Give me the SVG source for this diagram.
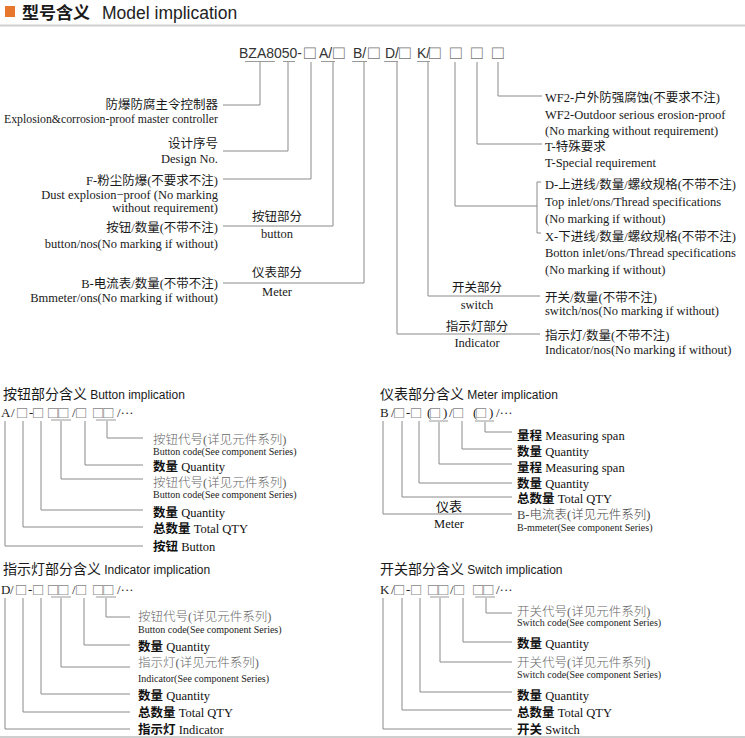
<svg xmlns="http://www.w3.org/2000/svg" width="745" height="738" viewBox="0 0 745 738">
<style>
.bg{fill:#fff}
.t{font-family:"Liberation Serif","Noto Sans CJK SC",serif;font-size:12.5px;fill:#1a1a1a}
.e{text-anchor:end}
.m{text-anchor:middle}
.code{font-family:"Liberation Sans","DejaVu Sans",sans-serif;font-size:14px;fill:#333}
.bx{font-family:"Liberation Sans","DejaVu Sans",sans-serif;font-size:19px;fill:#777}
.lc{font-family:"Liberation Serif","Noto Sans CJK SC",serif;font-size:13px;fill:#222}
.lb{font-family:"Liberation Sans","DejaVu Sans",sans-serif;font-size:17px;fill:#888}
.ttl{font-family:"Noto Sans CJK SC",sans-serif;font-size:14px;fill:#1a1a1a}
.ttl tspan.l{font-family:"Liberation Sans",sans-serif;font-size:12px}
.s13{font-family:"Liberation Serif","Noto Sans CJK SC",serif;font-size:12.5px;fill:#111}
.s13 tspan.b{font-family:"Noto Sans CJK SC",sans-serif;font-weight:bold}
.g13{font-family:"Liberation Serif","Noto Sans CJK SC",serif;font-size:12.5px;fill:#666}
.g13 tspan.c{font-family:"Noto Sans CJK SC",sans-serif;font-weight:300}
.s10{font-family:"Liberation Serif",serif;font-size:10px;fill:#222}
.cj{font-family:"Noto Sans CJK SC",sans-serif;font-size:13px;fill:#111}
.ln{stroke:#8a8a8a;stroke-width:1;fill:none}
.ul{stroke:#999;stroke-width:1;fill:none}
</style>
<rect class="bg" x="0" y="0" width="745" height="738"/>

<g id="header">
<rect x="5" y="6" width="10" height="11" fill="#E8772E"/>
<text x="22" y="19" font-family="Noto Sans CJK SC,sans-serif" font-size="17" font-weight="bold" fill="#1a1a1a">型号含义</text>
<text x="102" y="19" font-family="Liberation Sans,sans-serif" font-size="17.5" fill="#222">Model implication</text>
<line x1="0" y1="25.5" x2="745" y2="25.5" stroke="#cfcfcf" stroke-width="2"/>
</g>

<g id="model-code">
<text class="code" x="239" y="58">BZA8050-</text>
<text class="bx" x="304" y="59">□</text>
<text class="code" x="319" y="58">A/</text>
<text class="bx" x="333" y="59">□</text>
<text class="code" x="353" y="58">B/</text>
<text class="bx" x="368" y="59">□</text>
<text class="code" x="385" y="58">D/</text>
<text class="bx" x="399" y="59">□</text>
<text class="code" x="417" y="58">K/</text>
<text class="bx" x="429" y="59">□</text>
<text class="bx" x="450" y="59">□</text>
<text class="bx" x="471" y="59">□</text>
<text class="bx" x="492" y="59">□</text>
</g>

<g id="connectors">
<path class="ul" d="M245 61.5H275M283 61.5H295M321 61.5H335M352 61.5H367M384 61.5H398M417 61.5H430"/>
<path class="ln" d="M260 62V105H223"/>
<path class="ln" d="M288 62V151H223"/>
<path class="ln" d="M311 62V179H223"/>
<path class="ln" d="M333 62V226H223"/>
<path class="ln" d="M364 62V283H223"/>
<path class="ln" d="M397 62V334H540"/>
<path class="ln" d="M428 62V296H540"/>
<path class="ln" d="M455 62V206H537"/>
<path class="ln" d="M541 182H537V233H541"/>
<path class="ln" d="M477 62V144H542"/>
<path class="ln" d="M498 62V96H542"/>

<path class="ul" d="M51 420H71M96 420H116"/>
<path class="ln" d="M5 421V546H143M23 421V527H143M41 421V510H143M61 421V479H143M85 421V465H143M107 421V438H143"/>

<path class="ul" d="M429 421H448M475 421H494"/>
<path class="ln" d="M383 421V514H512M402 421V497H512M419 421V483H512M439 422V464H512M462 421V449H512M485 422V432H512"/>

<path class="ul" d="M51 597H71M96 597H116"/>
<path class="ln" d="M5 598V729H130M23 598V712H130M41 598V694H130M61 598V667H130M84 598V645H130M106 598V617H130"/>

<path class="ul" d="M430 597H449M475 597H495"/>
<path class="ln" d="M383 598V729H512M402 598V710H512M420 598V692H512M440 598V662H512M463 598V642H512M486 598V613H512"/>
</g>

<g id="n-controller"><text class="t e" x="218" y="109">防爆防腐主令控制器</text><text class="t e" x="218" y="122.5" textLength="214" lengthAdjust="spacingAndGlyphs">Explosion&amp;corrosion-proof master controller</text></g>
<g id="n-design"><text class="t e" x="218" y="147.5">设计序号</text><text class="t e" x="218" y="163">Design No.</text></g>
<g id="n-dust"><text class="t e" x="218" y="184.5">F-粉尘防爆(不要求不注)</text><text class="t e" x="218" y="198.5">Dust explosion−proof (No marking</text><text class="t e" x="218" y="212">without requirement)</text></g>
<g id="n-button"><text class="t e" x="218" y="231.5">按钮/数量(不带不注)</text><text class="t e" x="218" y="247.5">button/nos(No marking if without)</text><text class="t m" x="277" y="221">按钮部分</text><text class="t m" x="277" y="238">button</text></g>
<g id="n-meter"><text class="t e" x="218" y="287.5">B-电流表/数量(不带不注)</text><text class="t e" x="218" y="301.5">Bmmeter/ons(No marking if without)</text><text class="t m" x="277" y="277">仪表部分</text><text class="t m" x="277" y="296">Meter</text></g>
<g id="n-wf2"><text class="t" x="545" y="101.5">WF2-户外防强腐蚀(不要求不注)</text><text class="t" x="545" y="118.5">WF2-Outdoor serious erosion-proof</text><text class="t" x="545" y="134.5">(No marking without requirement)</text></g>
<g id="n-special"><text class="t" x="545" y="150.5">T-特殊要求</text><text class="t" x="545" y="167">T-Special requirement</text></g>
<g id="n-inlet"><text class="t" x="545" y="188.5">D-上进线/数量/螺纹规格(不带不注)</text><text class="t" x="545" y="206">Top inlet/ons/Thread specifications</text><text class="t" x="545" y="223">(No marking if without)</text><text class="t" x="545" y="240.5">X-下进线/数量/螺纹规格(不带不注)</text><text class="t" x="545" y="257">Botton inlet/ons/Thread specifications</text><text class="t" x="545" y="274">(No marking if without)</text></g>
<g id="n-switch"><text class="t" x="545" y="301.5">开关/数量(不带不注)</text><text class="t" x="545" y="314.5">switch/nos(No marking if without)</text><text class="t m" x="477" y="291.5">开关部分</text><text class="t m" x="477" y="309">switch</text></g>
<g id="n-indicator"><text class="t" x="545" y="339.5">指示灯/数量(不带不注)</text><text class="t" x="545" y="354">Indicator/nos(No marking if without)</text><text class="t m" x="477" y="330.5">指示灯部分</text><text class="t m" x="477" y="347">Indicator</text></g>

<g id="button-section">
<text class="ttl" x="3" y="399">按钮部分含义 <tspan class="l">Button implication</tspan></text>
<text class="lc" x="1" y="417">A</text><text class="lc" x="11" y="417">/</text><text class="lb" x="17" y="418">□</text><text class="lc" x="29" y="417">-</text><text class="lb" x="33" y="418">□</text><text class="lb" x="48" y="418">□□</text><text class="lc" x="72" y="417">/</text><text class="lb" x="76" y="418">□</text><text class="lb" x="93" y="418">□□</text><text class="lc" x="117" y="417">/···</text>
<text class="g13" x="153" y="444"><tspan class="c">按钮代号</tspan>(<tspan class="c">详见元件系列</tspan>)</text><text class="s10" x="153" y="455">Button code(See component Series)</text>
<text class="s13" x="153" y="470.5"><tspan class="b">数量</tspan> Quantity</text>
<text class="g13" x="153" y="487"><tspan class="c">按钮代号</tspan>(<tspan class="c">详见元件系列</tspan>)</text><text class="s10" x="153" y="498">Button code(See component Series)</text>
<text class="s13" x="153" y="516.5"><tspan class="b">数量</tspan> Quantity</text>
<text class="s13" x="153" y="532.5"><tspan class="b">总数量</tspan> Total QTY</text>
<text class="s13" x="153" y="550.5"><tspan class="b">按钮</tspan> Button</text>
</g>

<g id="meter-section">
<text class="ttl" x="380" y="399">仪表部分含义 <tspan class="l">Meter implication</tspan></text>
<text class="lc" x="380" y="417">B</text><text class="lc" x="391" y="417">/</text><text class="lb" x="394" y="418">□</text><text class="lc" x="406" y="417">-</text><text class="lb" x="411" y="418">□</text><text class="lc" x="427" y="417">(</text><text class="lb" x="430" y="418">□</text><text class="lc" x="443" y="417">)</text><text class="lc" x="449" y="417">/</text><text class="lb" x="453" y="418">□</text><text class="lc" x="473" y="417">(</text><text class="lb" x="476" y="418">□</text><text class="lc" x="489" y="417">)</text><text class="lc" x="496" y="417">/···</text>
<text class="s13" x="517" y="439.5"><tspan class="b">量程</tspan> Measuring span</text>
<text class="s13" x="517" y="455.5"><tspan class="b">数量</tspan> Quantity</text>
<text class="s13" x="517" y="471.5"><tspan class="b">量程</tspan> Measuring span</text>
<text class="s13" x="517" y="487.5"><tspan class="b">数量</tspan> Quantity</text>
<text class="s13" x="517" y="502.5"><tspan class="b">总数量</tspan> Total QTY</text>
<text class="g13" x="517" y="519" style="fill:#444">B-<tspan class="c">电流表</tspan>(<tspan class="c">详见元件系列</tspan>)</text><text class="s10" x="517" y="531">B-mmeter(See component Series)</text>
<text class="cj" x="449" y="511" text-anchor="middle">仪表</text>
<text class="s13" x="449" y="527.5" text-anchor="middle">Meter</text>
</g>

<g id="indicator-section">
<text class="ttl" x="3" y="574">指示灯部分含义 <tspan class="l">Indicator implication</tspan></text>
<text class="lc" x="1" y="594">D</text><text class="lc" x="10" y="594">/</text><text class="lb" x="16" y="595">□</text><text class="lc" x="28" y="594">-</text><text class="lb" x="33" y="595">□</text><text class="lb" x="48" y="595">□□</text><text class="lc" x="72" y="594">/</text><text class="lb" x="76" y="595">□</text><text class="lb" x="93" y="595">□□</text><text class="lc" x="117" y="594">/···</text>
<text class="g13" x="138" y="621"><tspan class="c">按钮代号</tspan>(<tspan class="c">详见元件系列</tspan>)</text><text class="s10" x="138" y="633">Button code(See component Series)</text>
<text class="s13" x="138" y="650.5"><tspan class="b">数量</tspan> Quantity</text>
<text class="g13" x="138" y="667"><tspan class="c">指示灯</tspan>(<tspan class="c">详见元件系列</tspan>)</text><text class="s10" x="138" y="682">Indicator(See component Series)</text>
<text class="s13" x="138" y="699.5"><tspan class="b">数量</tspan> Quantity</text>
<text class="s13" x="138" y="716.5"><tspan class="b">总数量</tspan> Total QTY</text>
<text class="s13" x="138" y="734"><tspan class="b">指示灯</tspan> Indicator</text>
</g>

<g id="switch-section">
<text class="ttl" x="380" y="574">开关部分含义 <tspan class="l">Switch implication</tspan></text>
<text class="lc" x="380" y="594">K</text><text class="lc" x="391" y="594">/</text><text class="lb" x="394" y="595">□</text><text class="lc" x="406" y="594">-</text><text class="lb" x="411" y="595">□</text><text class="lb" x="428" y="595">□□</text><text class="lc" x="450" y="594">/</text><text class="lb" x="454" y="595">□</text><text class="lb" x="473" y="595">□□</text><text class="lc" x="496" y="594">/···</text>
<text class="g13" x="517" y="616"><tspan class="c">开关代号</tspan>(<tspan class="c">详见元件系列</tspan>)</text><text class="s10" x="517" y="626">Switch code(See component Series)</text>
<text class="s13" x="517" y="647.5"><tspan class="b">数量</tspan> Quantity</text>
<text class="g13" x="517" y="667"><tspan class="c">开关代号</tspan>(<tspan class="c">详见元件系列</tspan>)</text><text class="s10" x="517" y="678">Switch code(See component Series)</text>
<text class="s13" x="517" y="699.5"><tspan class="b">数量</tspan> Quantity</text>
<text class="s13" x="517" y="716.5"><tspan class="b">总数量</tspan> Total QTY</text>
<text class="s13" x="517" y="733.5"><tspan class="b">开关</tspan> Switch</text>
</g>

<line x1="0" y1="737" x2="745" y2="737" stroke="#cfcfcf" stroke-width="2"/>
</svg>
